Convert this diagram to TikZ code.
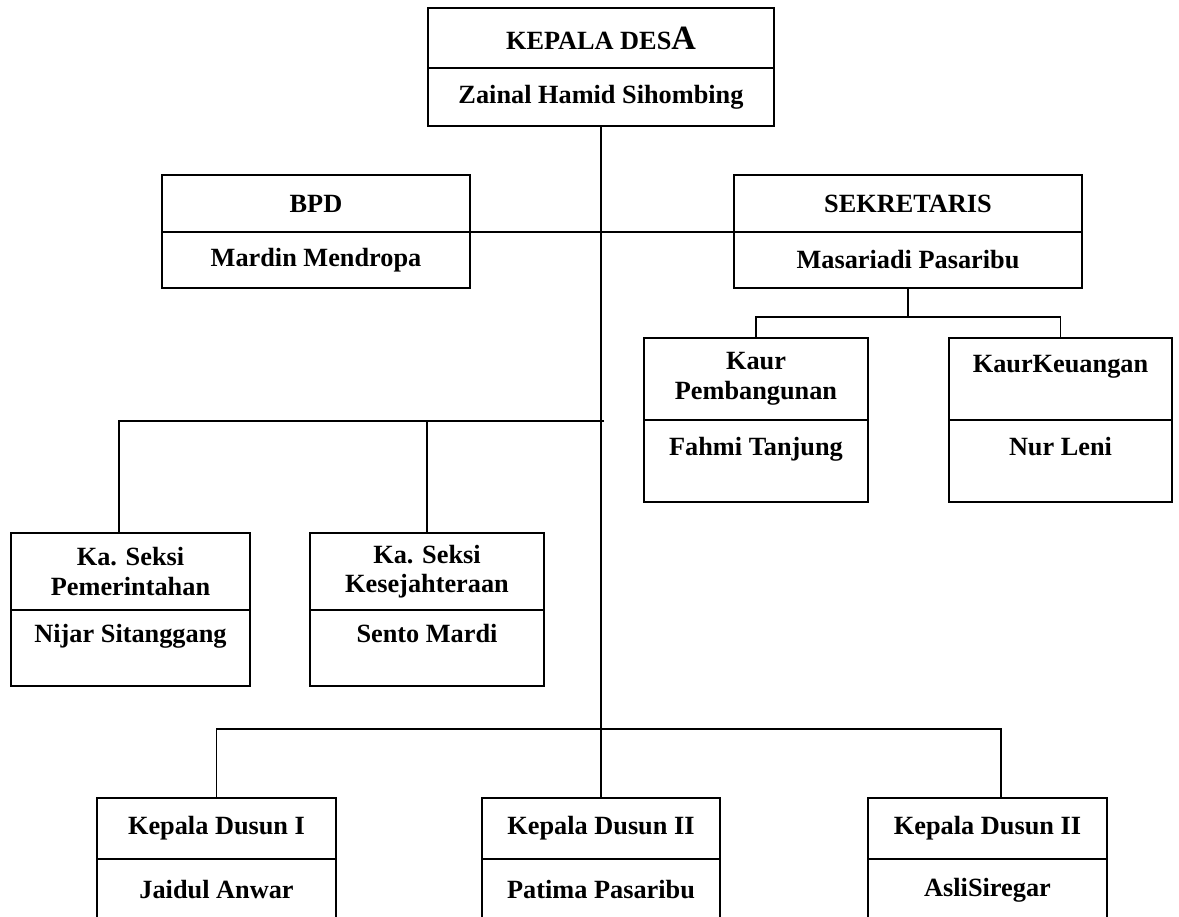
\documentclass[tikz,border=0pt]{standalone}
\usepackage{fontspec}
\setmainfont{Liberation Serif}
\usetikzlibrary{positioning}
\begin{document}
\begin{tikzpicture}[x=1pt,y=-1pt,
    part/.style={draw, line width=2.2pt, inner sep=0pt, outer sep=0pt, align=center,
      font=\fontsize{26.3}{29.5}\selectfont\bfseries},
    link/.style={line width=1.3pt}]
            \clip (0,0) rectangle (1179,917);
            {

            % Drawing box Kepala Desa
            \node[part, minimum width=346, minimum height=60] (kades) at (601,38) {KEPALA DES{\fontsize{34}{28}\selectfont A}};%
            \node[part, minimum width=346, minimum height=58, below=0pt of kades] (kadesnama) {Zainal Hamid Sihombing};%

            % Drawing box BPD
            \node[part, minimum width=308, minimum height=57] (bpd) at (316,203.5) {BPD};%
            \node[part, minimum width=308, minimum height=56, below=0pt of bpd] (bpdnama) {Mardin Mendropa};%

            % Drawing box Sekretaris
            \node[part, minimum width=348, minimum height=57] (sek) at (908,203.5) {SEKRETARIS};%
            \node[part, minimum width=348, minimum height=56, below=0pt of sek] (seknama) {Masariadi Pasaribu};%

            % Drawing box Kaur
            \node[part, minimum width=224, minimum height=82] (kaurp) at (756,379) {Kaur\\Pembangunan};%
            \node[part, minimum width=224, minimum height=82, below=0pt of kaurp] (kaurpnama) {Fahmi Tanjung\\\mbox{}};%
            \node[part, minimum width=223, minimum height=82] (kaurk) at (1060.5,379) {KaurKeuangan\\\mbox{}};%
            \node[part, minimum width=223, minimum height=82, below=0pt of kaurk] (kaurknama) {Nur Leni\\\mbox{}};%

            % Drawing box Ka. Seksi
            \node[part, minimum width=239, minimum height=77] (seksi1) at (130.5,571.5) {Ka. Seksi\\Pemerintahan};%
            \node[part, minimum width=239, minimum height=76, below=0pt of seksi1] (seksi1nama) {Nijar Sitanggang\\\mbox{}};%
            \node[part, minimum width=234, minimum height=77] (seksi2) at (427,571.5) {Ka. Seksi\\Kesejahteraan};%
            \node[part, minimum width=234, minimum height=76, below=0pt of seksi2] (seksi2nama) {Sento Mardi\\\mbox{}};%

            % Drawing box Kepala Dusun
            \node[part, minimum width=239, minimum height=61] (dusun1) at (216.5,828.5) {Kepala Dusun I};%
            \node[part, minimum width=239, minimum height=62, below=0pt of dusun1] (dusun1nama) {Jaidul Anwar};%
            \node[part, minimum width=238, minimum height=61] (dusun2) at (601,828.5) {Kepala Dusun II};%
            \node[part, minimum width=238, minimum height=62, below=0pt of dusun2] (dusun2nama) {Patima Pasaribu};%
            \node[part, minimum width=239, minimum height=61] (dusun3) at (987.5,828.5) {Kepala Dusun II};%
            \node[part, minimum width=239, minimum height=62, below=0pt of dusun3] (dusun3nama) {AsliSiregar};%

            % Drawing line Kepala Desa Kepala Dusun II
            \draw[link] (kadesnama.south) -- (dusun2.north);%

            % Drawing line BPD Sekretaris
            \draw[link] (bpd.south east) -- (sek.south west);%

            % Drawing line Sekretaris Kaur
            \draw[link] (seknama.south) -- ++(0,29) coordinate (kaurbus);%
            \draw[link] (kaurp.north) |- (kaurbus) -| (kaurk.north);%

            % Drawing line Ka. Seksi
            \coordinate (seksibus) at (604,421);%
            \draw[link] (seksibus) -| ([xshift=-11.5pt]seksi1.north);%
            \draw[link] (seksi2.north) -- (seksi2.north |- seksibus);%

            % Drawing line Kepala Dusun
            \coordinate (dusunbus) at (601,729);%
            \draw[link] (dusun1.north) |- ([xshift=13.5pt]dusun3.north |- dusunbus) -- ([xshift=13.5pt]dusun3.north);%
            }
\end{tikzpicture}
\end{document}
